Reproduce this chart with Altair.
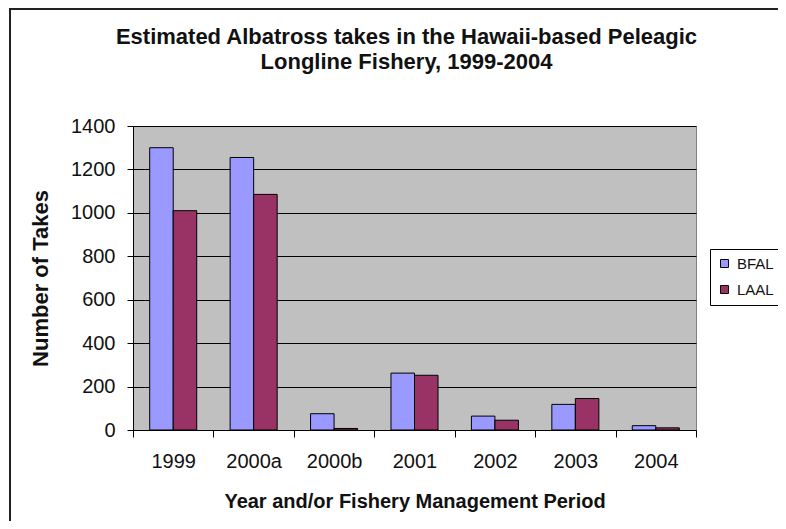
import altair as alt
import pandas as pd

periods = ["1999", "2000a", "2000b", "2001", "2002", "2003", "2004"]
bfal = [1300, 1255, 75, 262, 64, 118, 20]
laal = [1010, 1085, 7, 252, 45, 145, 10]
series = ["BFAL", "LAAL"]
y_ticks = [0, 200, 400, 600, 800, 1000, 1200, 1400]

rows = []
for i, p in enumerate(periods):
    rows.append({"period": p, "species": "BFAL", "takes": bfal[i]})
    rows.append({"period": p, "species": "LAAL", "takes": laal[i]})
df = pd.DataFrame(rows)

FONT = "Liberation Sans"
W, H = 563, 304
PL, PT = 125, 118

bars = alt.Chart(df).mark_bar(stroke="black", strokeWidth=1).encode(
    x=alt.X("period:N", sort=periods,
            scale=alt.Scale(paddingInner=0, paddingOuter=0),
            axis=alt.Axis(title="Year and/or Fishery Management Period",
                          labelAngle=0, tickBand="extent", tickSize=7,
                          tickColor="black", domainColor="black",
                          labelFontSize=20, labelPadding=14, labelColor="#111111",
                          titleFontSize=20, titleFontWeight="bold",
                          titlePadding=20, titleColor="#111111", grid=False)),
    xOffset=alt.XOffset("species:N", sort=series,
                        scale=alt.Scale(paddingInner=0, paddingOuter=0.71)),
    y=alt.Y("takes:Q",
            scale=alt.Scale(domain=[0, 1400], nice=False),
            axis=alt.Axis(title="Number of Takes", values=y_ticks, format="d",
                          tickSize=6, tickColor="black", domainColor="black",
                          labelFontSize=20, labelPadding=12, labelColor="#111111",
                          titleFontSize=22, titleFontWeight="bold",
                          titlePadding=18, titleColor="#111111",
                          grid=True, gridColor="black", gridWidth=1.2, gridOpacity=1)),
    color=alt.Color("species:N", sort=series,
                    scale=alt.Scale(domain=series, range=["#9999FF", "#993366"]),
                    legend=alt.Legend(title=None, orient="none",
                                      legendX=577, legendY=123,
                                      symbolType="square", symbolSize=64,
                                      symbolStrokeColor="black", symbolStrokeWidth=1,
                                      labelFontSize=15, labelColor="#111111",
                                      labelOffset=5,
                                      rowPadding=10, padding=7,
                                      strokeColor="black", fillColor="white")),
)

frame = alt.Chart(pd.DataFrame({"k": [0]})).mark_rect(
    fill=None, stroke="#222222", strokeWidth=2, clip=False
).encode(
    x=alt.value(-PL + 2), x2=alt.value(W + 200),
    y=alt.value(-PT + 1), y2=alt.value(H + 200),
)

chart = alt.layer(frame, bars).properties(
    width=W, height=H,
    title=alt.Title(["Estimated Albatross takes in the Hawaii-based Peleagic",
                     "Longline Fishery, 1999-2004"],
                    fontSize=22, fontWeight="bold", font=FONT, color="#111111",
                    anchor="middle", frame="group", offset=-66, lineHeight=25, dx=-8),
    autosize=alt.AutoSizeParams(type="none"),
    padding={"left": PL, "top": PT, "right": 786 - 16 - PL - W, "bottom": 529 - 16 - PT - H},
).configure(font=FONT).configure_view(
    fill="#C0C0C0", stroke="#808080", strokeWidth=1
).configure_axis(labelFont=FONT, titleFont=FONT)

chart.save("out.html", embed_options={"renderer": "svg", "actions": False})
